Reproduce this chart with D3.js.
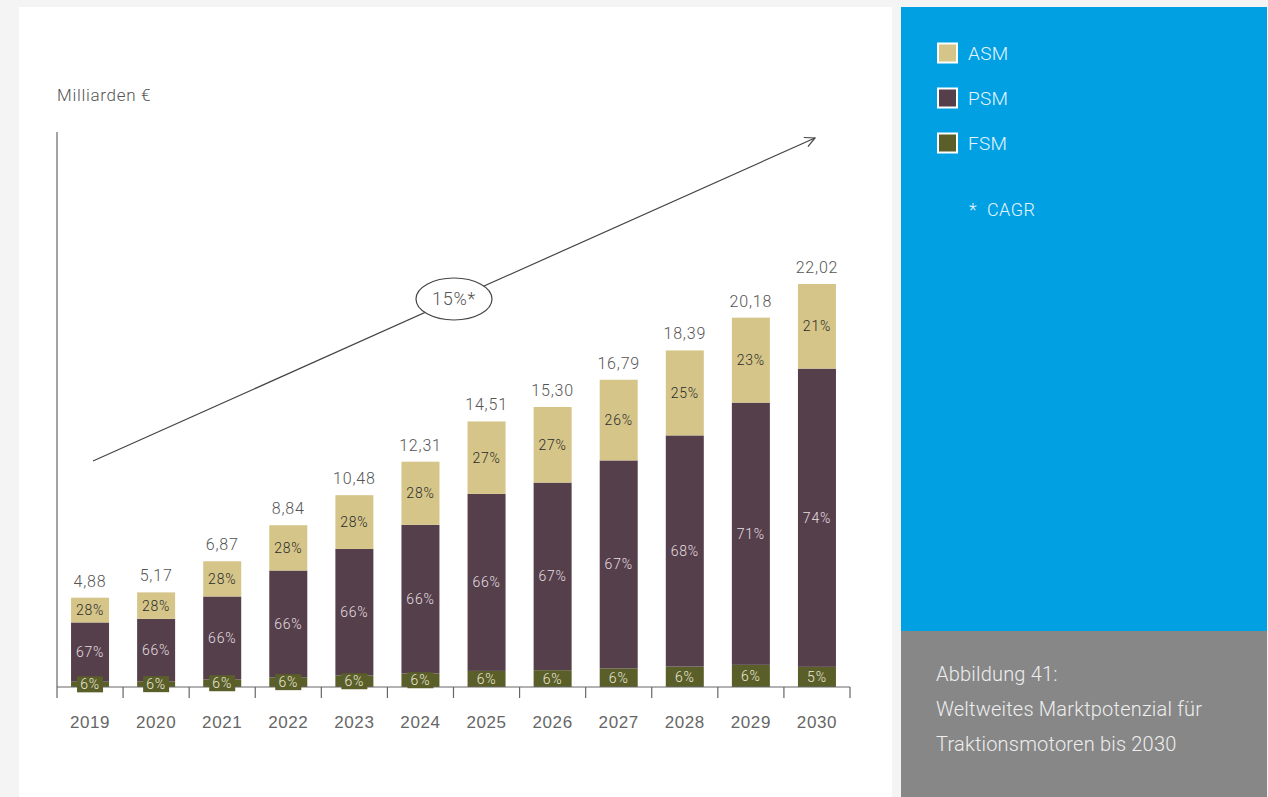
<!DOCTYPE html>
<html>
<head>
<meta charset="utf-8">
<script src="https://cdn.jsdelivr.net/npm/d3@7"></script>
<style>
  html, body { margin: 0; padding: 0; background: #f4f4f4; }
  svg { display: block; font-family: Roboto, "Open Sans", sans-serif; }
</style>
</head>
<body>
<svg id="chart" width="1268" height="797"></svg>
<script>
const years = ["2019","2020","2021","2022","2023","2024","2025","2026","2027","2028","2029","2030"];
const totals = [4.88, 5.17, 6.87, 8.84, 10.48, 12.31, 14.51, 15.30, 16.79, 18.39, 20.18, 22.02];
const totalLabels = ["4,88","5,17","6,87","8,84","10,48","12,31","14,51","15,30","16,79","18,39","20,18","22,02"];
const fsmShare = [6, 6, 6, 6, 6, 6, 6, 6, 6, 6, 6, 5];
const psmShare = [67, 66, 66, 66, 66, 66, 66, 67, 67, 68, 71, 74];
const asmShare = [28, 28, 28, 28, 28, 28, 27, 27, 26, 25, 23, 21];
const seriesNames = ["FSM", "PSM", "ASM"];
const legendNames = ["ASM", "PSM", "FSM"];
const cagrLabel = "15%*";
const yTitle = "Milliarden €";
const captionLines = ["Abbildung 41:", "Weltweites Marktpotenzial für", "Traktionsmotoren bis 2030"];

const colors = { ASM: "#d5c589", PSM: "#553f4a", FSM: "#5a5e28" };
const labelColors = { ASM: "#2a2a2a", PSM: "#e6dfe3", FSM: "#eceadb" };

const svg = d3.select("#chart");

// panels
svg.append("rect").attr("x", 19).attr("y", 7).attr("width", 873).attr("height", 790).attr("fill", "#ffffff");
svg.append("rect").attr("x", 901).attr("y", 7).attr("width", 366).attr("height", 624).attr("fill", "#00a0e3");
svg.append("rect").attr("x", 901).attr("y", 631).attr("width", 366).attr("height", 166).attr("fill", "#878787");

// data table
const rows = years.map((y, i) => {
  const sum = fsmShare[i] + psmShare[i] + asmShare[i];
  return {
    year: y, total: totals[i], label: totalLabels[i],
    FSM: totals[i] * fsmShare[i] / sum,
    PSM: totals[i] * psmShare[i] / sum,
    ASM: totals[i] * asmShare[i] / sum,
    FSMp: fsmShare[i], PSMp: psmShare[i], ASMp: asmShare[i]
  };
});

const x0 = 57, x1 = 850, baseY = 687;
const x = d3.scaleBand().domain(years).range([x0, x1]).paddingInner(0).paddingOuter(0);
const y = d3.scaleLinear().domain([0, 22.02]).range([baseY, 284]);
const barW = 38;

const stack = d3.stack().keys(seriesNames)(rows);

const g = svg.append("g");

// bars
stack.forEach(layer => {
  const key = layer.key;
  g.append("g").selectAll("rect").data(layer).join("rect")
    .attr("x", d => x(d.data.year) + x.bandwidth() / 2 - barW / 2)
    .attr("width", barW)
    .attr("y", d => y(d[1]))
    .attr("height", d => y(d[0]) - y(d[1]))
    .attr("fill", colors[key]);
});

// axes
const xAxis = d3.axisBottom(x).tickSize(0).tickPadding(0).tickFormat("");
const axG = g.append("g").attr("transform", `translate(0,${baseY})`).call(xAxis);
axG.select(".domain").remove();
axG.append("line").attr("x1", x0).attr("x2", x1).attr("y1", 0).attr("y2", 0).attr("stroke", "#666").attr("stroke-width", 1.2);
const boundaries = years.map(yy => x(yy)).concat([x1]);
axG.selectAll("line.tk").data(boundaries).join("line").attr("class", "tk")
  .attr("x1", d => d).attr("x2", d => d).attr("y1", 0).attr("y2", 11)
  .attr("stroke", "#666").attr("stroke-width", 1.2);
axG.selectAll("text.yr").data(years).join("text").attr("class", "yr")
  .attr("x", d => x(d) + x.bandwidth() / 2).attr("y", 41)
  .attr("text-anchor", "middle").attr("font-size", 17).attr("fill", "#666")
  .attr("letter-spacing", 0.6).attr("font-weight", 300)
  .text(d => d);

g.append("line").attr("x1", x0).attr("x2", x0).attr("y1", 132).attr("y2", baseY)
  .attr("stroke", "#666").attr("stroke-width", 1.2);

g.append("text").attr("x", 57).attr("y", 101).attr("font-size", 17).attr("fill", "#555")
  .attr("letter-spacing", 0.7).attr("font-weight", 300).text(yTitle);

// segment labels
stack.forEach(layer => {
  const key = layer.key;
  layer.forEach(d => {
    const cx = x(d.data.year) + x.bandwidth() / 2;
    const h = y(d[0]) - y(d[1]);
    const cy = (y(d[0]) + y(d[1])) / 2;
    if (key === "FSM" && h < 14) {
      g.append("rect").attr("x", cx - 13).attr("y", cy - 8).attr("width", 26).attr("height", 16)
        .attr("fill", colors.FSM);
    }
    g.append("text").attr("x", cx).attr("y", cy).attr("dy", "0.36em")
      .attr("text-anchor", "middle").attr("font-size", 14)
      .attr("letter-spacing", 0.8).attr("font-weight", 300)
      .attr("fill", labelColors[key])
      .text(d.data[key + "p"] + "%");
  });
});

// totals
g.selectAll("text.tot").data(rows).join("text").attr("class", "tot")
  .attr("x", d => x(d.year) + x.bandwidth() / 2).attr("y", d => y(d.total) - 11)
  .attr("text-anchor", "middle").attr("font-size", 16).attr("fill", "#555")
  .attr("letter-spacing", 0.8).attr("font-weight", 300)
  .text(d => d.label);

// CAGR arrow
svg.append("defs").append("marker").attr("id", "arr").attr("viewBox", "0 0 12 12")
  .attr("refX", 11).attr("refY", 6).attr("markerWidth", 12).attr("markerHeight", 12)
  .attr("markerUnits", "userSpaceOnUse").attr("orient", "auto")
  .append("path").attr("d", "M1,1 L11,6 L1,11").attr("fill", "none").attr("stroke", "#444").attr("stroke-width", 1.2);
g.append("line").attr("x1", 93).attr("y1", 461).attr("x2", 815).attr("y2", 138)
  .attr("stroke", "#444").attr("stroke-width", 1.2).attr("marker-end", "url(#arr)");
g.append("ellipse").attr("cx", 454).attr("cy", 299).attr("rx", 38).attr("ry", 21)
  .attr("fill", "#fff").attr("stroke", "#444").attr("stroke-width", 1.2);
g.append("text").attr("x", 454).attr("y", 299).attr("dy", "0.36em").attr("text-anchor", "middle")
  .attr("font-size", 18).attr("letter-spacing", 0.8).attr("fill", "#555").attr("font-weight", 300).text(cagrLabel);

// legend
const lg = svg.append("g");
legendNames.forEach((n, i) => {
  const cy = 53 + i * 45;
  lg.append("rect").attr("x", 938).attr("y", cy - 9.5).attr("width", 19).attr("height", 19)
    .attr("fill", colors[n]).attr("stroke", "#fff").attr("stroke-width", 2);
  lg.append("text").attr("x", 968).attr("y", cy).attr("dy", "0.36em").attr("font-size", 19)
    .attr("letter-spacing", 0.3).attr("fill", "#e6f4fc").attr("font-weight", 300).text(n);
});
lg.append("text").attr("x", 969).attr("y", 210).attr("dy", "0.36em").attr("font-size", 18)
  .attr("letter-spacing", 0.5).attr("fill", "#e6f4fc").attr("font-weight", 300).text("*  CAGR")
  .attr("xml:space", "preserve").style("white-space", "pre");

// caption
captionLines.forEach((t, i) => {
  svg.append("text").attr("x", 936).attr("y", 674 + i * 35).attr("dy", "0.36em")
    .attr("font-size", 20).attr("letter-spacing", 0.2).attr("fill", "#eeeeee").attr("font-weight", 300).text(t);
});
</script>
</body>
</html>
